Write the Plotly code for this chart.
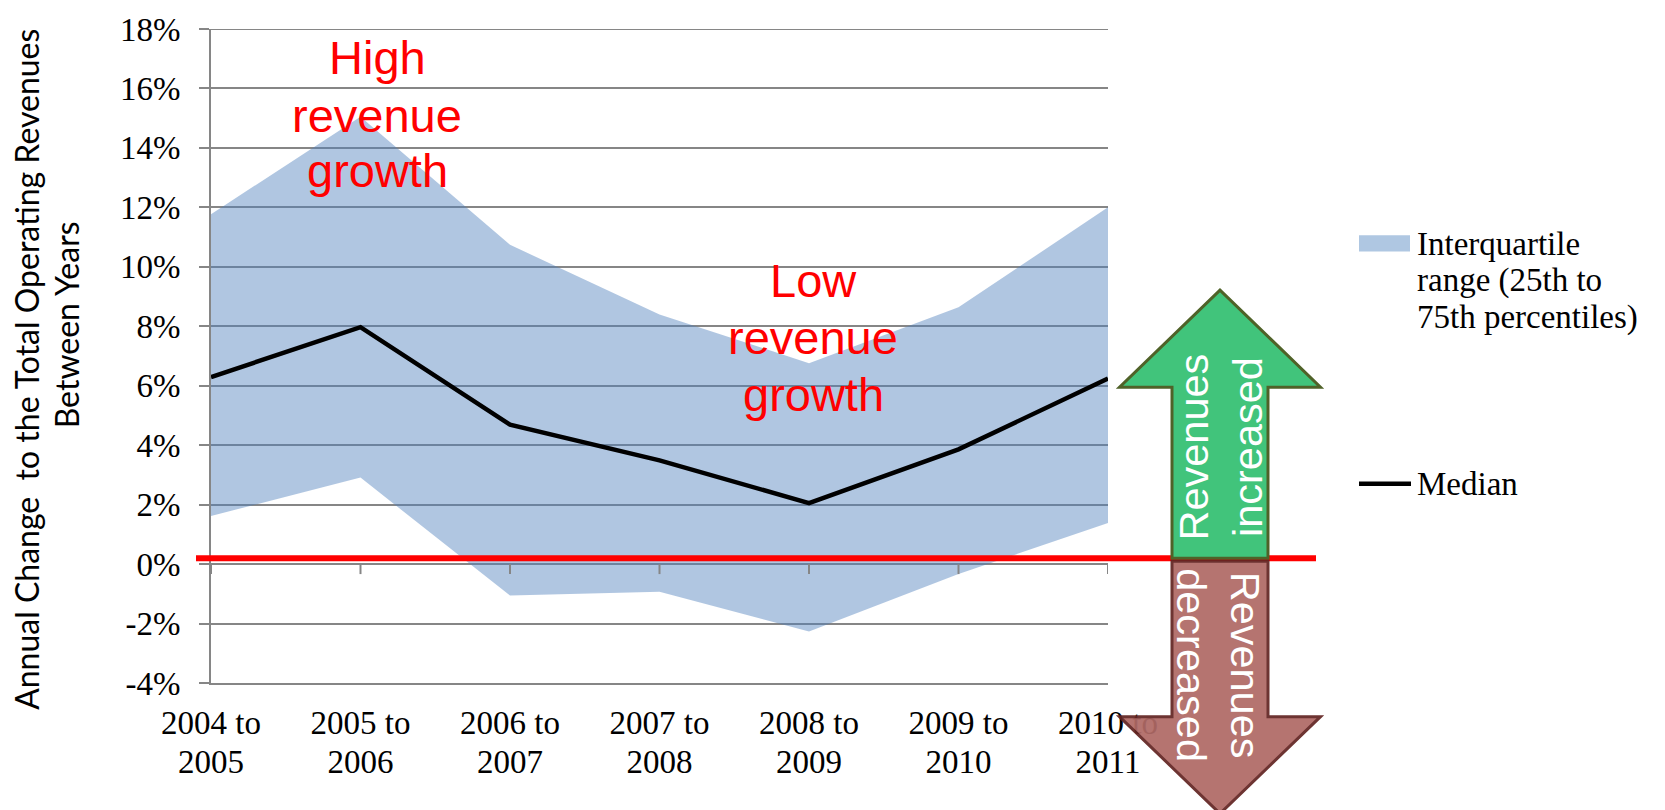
import plotly.graph_objects as go

# ---------------- data ----------------
CATEGORIES = ["2004 to 2005", "2005 to 2006", "2006 to 2007", "2007 to 2008",
              "2008 to 2009", "2009 to 2010", "2010 to 2011"]
X_LABEL_LINE1 = ["2004 to", "2005 to", "2006 to", "2007 to", "2008 to", "2009 to", "2010 to"]
X_LABEL_LINE2 = ["2005", "2006", "2007", "2008", "2009", "2010", "2011"]
P25 = [0.0162, 0.0291, -0.0106, -0.0093, -0.0227, -0.0033, 0.0138]
P75 = [0.1177, 0.1505, 0.1074, 0.0840, 0.0676, 0.0864, 0.1200]
MEDIAN = [0.0629, 0.0797, 0.0469, 0.0349, 0.0205, 0.0386, 0.0624]
Y_TICK_VALUES = [-0.04, -0.02, 0.0, 0.02, 0.04, 0.06, 0.08, 0.10, 0.12, 0.14, 0.16, 0.18]
Y_TICK_LABELS = ["-4%", "-2%", "0%", "2%", "4%", "6%", "8%", "10%", "12%", "14%", "16%", "18%"]
Y_RANGE = [-0.04, 0.18]
REF_LINE_VALUE = 0.002
LEGEND_BAND = ["Interquartile", "range (25th to", "75th percentiles)"]
LEGEND_MEDIAN = "Median"
Y_TITLE = ["Annual Change \u00a0to the Total Operating Revenues", "Between Years"]
HIGH_TEXT = ["High", "revenue", "growth"]
LOW_TEXT = ["Low", "revenue", "growth"]

# ---------------- layout geometry ----------------
W_FIG, H_FIG = 1665, 810
ML, MR, MT, MB = 211, 557, 22, 127
PW = W_FIG - ML - MR
PH = H_FIG - MT - MB


def xp(px):
    return (px - ML) / PW


def yp(py):
    return (H_FIG - MB - py) / PH


SERIF = "Liberation Serif, Times New Roman, serif"
SANS = "Liberation Sans, Arial, sans-serif"
TITLE_FONT = "Lato, Carlito, sans-serif"
GRID = "#868686"
BAND = "rgba(79,129,189,0.45)"
BAND_SOLID = "rgb(175,199,226)"

fig = go.Figure()
fig.add_trace(go.Scatter(x=CATEGORIES, y=P25, mode="lines", line=dict(width=0),
                         showlegend=False, hoverinfo="skip"))
fig.add_trace(go.Scatter(x=CATEGORIES, y=P75, mode="lines", line=dict(width=0),
                         fill="tonexty", fillcolor=BAND,
                         name="Interquartile range (25th to 75th percentiles)", showlegend=False))
fig.add_trace(go.Scatter(x=CATEGORIES, y=MEDIAN, mode="lines",
                         line=dict(color="black", width=4.5), name="Median", showlegend=False))
# invisible carrier so the second category-label row (xaxis2) is drawn
fig.add_trace(go.Scatter(x=list(range(len(CATEGORIES))), y=MEDIAN, xaxis="x2", mode="lines",
                         line=dict(width=0), opacity=0, showlegend=False, hoverinfo="skip"))

shapes = []
# top gridline (18%)
shapes.append(dict(type="line", xref="paper", yref="y", x0=0, x1=1,
                   y0=Y_RANGE[1], y1=Y_RANGE[1], line=dict(color=GRID, width=2), layer="below"))
# category tick marks on the 0% line
for c in CATEGORIES:
    shapes.append(dict(type="line", xref="x", yref="y", x0=c, x1=c,
                       ysizemode="pixel", yanchor=0, y0=0, y1=-10,
                       line=dict(color=GRID, width=2), layer="above"))
# red reference line
shapes.append(dict(type="line", xref="paper", yref="y", x0=xp(196), x1=xp(1316),
                   y0=REF_LINE_VALUE, y1=REF_LINE_VALUE, line=dict(color="#FF0000", width=6),
                   layer="above"))


def poly(pts):
    return "M " + " L ".join(f"{xp(a):.5f},{yp(b):.5f}" for a, b in pts) + " Z"


green = [(1220, 286), (1320.5, 384), (1268, 384), (1268, 557), (1172, 557),
         (1172, 384), (1119.5, 384)]
brown = [(1172, 560), (1268, 560), (1268, 717), (1320.5, 717), (1220, 815),
         (1119.5, 717), (1172, 717)]
shapes.append(dict(type="path", xref="paper", yref="paper", path=poly(green),
                   fillcolor="#41C47B", line=dict(color="#4F6228", width=3), layer="above"))
shapes.append(dict(type="path", xref="paper", yref="paper", path=poly(brown),
                   fillcolor="#B06A66", line=dict(color="#632523", width=3), layer="above",
                   opacity=0.93))
# legend symbols
shapes.append(dict(type="rect", xref="paper", yref="paper", x0=xp(1359), x1=xp(1410),
                   y0=yp(230.5), y1=yp(247), fillcolor=BAND_SOLID, line=dict(width=0)))
shapes.append(dict(type="line", xref="paper", yref="paper", x0=xp(1359), x1=xp(1411),
                   y0=yp(481.6), y1=yp(481.6), line=dict(color="black", width=4.5)))

ann = []


def text_ann(txt, cx, cy, size, family, color, xanchor="center", angle=0):
    return dict(text=txt, xref="paper", yref="paper", x=xp(cx), y=yp(cy),
                xanchor=xanchor, yanchor="middle", showarrow=False, textangle=angle,
                font=dict(size=size, family=family, color=color),
                borderpad=0, borderwidth=0)


RED_FS = 47
for t, base in zip(HIGH_TEXT, [66.7, 126, 181.7]):
    ann.append(text_ann(t, 377, base - 0.3465 * RED_FS, RED_FS, SANS, "#FF0000"))
for t, base in zip(LOW_TEXT, [292, 350, 408]):
    ann.append(text_ann(t, 813, base - 0.3465 * RED_FS, RED_FS, SANS, "#FF0000"))

ann.append(text_ann("Revenues<br>increased", 1221, 445, 41.5, SANS, "white", angle=-90))
ann.append(text_ann("Revenues<br>decreased", 1219, 665, 41.5, SANS, "white", angle=90))

LEG_FS = 33
for t, base in zip(LEGEND_BAND, [250.2, 287.5, 324.8]):
    ann.append(text_ann(t, 1417, base - 0.3375 * LEG_FS, LEG_FS, SERIF, "black", xanchor="left"))
ann.append(text_ann(LEGEND_MEDIAN, 1417, 493.3 - 0.3375 * LEG_FS, LEG_FS, SERIF, "black",
                    xanchor="left"))

ann.append(text_ann(Y_TITLE[0], 27, 366.5, 32, TITLE_FONT, "black", angle=-90))
ann.append(text_ann(Y_TITLE[1], 66, 321.5, 32, TITLE_FONT, "black", angle=-90))

fig.update_layout(
    width=W_FIG, height=H_FIG,
    margin=dict(l=ML, r=MR, t=MT, b=MB, pad=0),
    paper_bgcolor="white", plot_bgcolor="white",
    showlegend=False,
    shapes=shapes, annotations=ann,
    xaxis=dict(type="category", categoryarray=CATEGORIES, range=[0, len(CATEGORIES) - 1],
               tickvals=CATEGORIES, ticktext=X_LABEL_LINE1, ticks="", showgrid=False,
               showline=True, linecolor=GRID, linewidth=2, zeroline=False,
               tickfont=dict(family=SERIF, size=LEG_FS, color="black"),
               ticklabelstandoff=9, fixedrange=True),
    xaxis2=dict(overlaying="x", anchor="y", side="bottom", type="linear",
                range=[0, len(CATEGORIES) - 1], tickvals=list(range(len(CATEGORIES))),
                ticktext=X_LABEL_LINE2, ticks="", showgrid=False, showline=False,
                zeroline=False, tickfont=dict(family=SERIF, size=LEG_FS, color="black"),
                ticklabelstandoff=56, fixedrange=True),
    yaxis=dict(range=Y_RANGE, tickvals=Y_TICK_VALUES, ticktext=Y_TICK_LABELS,
               showgrid=True, gridcolor=GRID, gridwidth=2, zeroline=False,
               showline=True, linecolor=GRID, linewidth=2,
               ticks="outside", ticklen=10, tickwidth=2, tickcolor=GRID,
               tickfont=dict(family=SERIF, size=LEG_FS, color="black"),
               ticklabelstandoff=12, fixedrange=True),
)

fig.write_html("out.html", config={"displayModeBar": False},
               post_script="document.body.style.margin='0';")
